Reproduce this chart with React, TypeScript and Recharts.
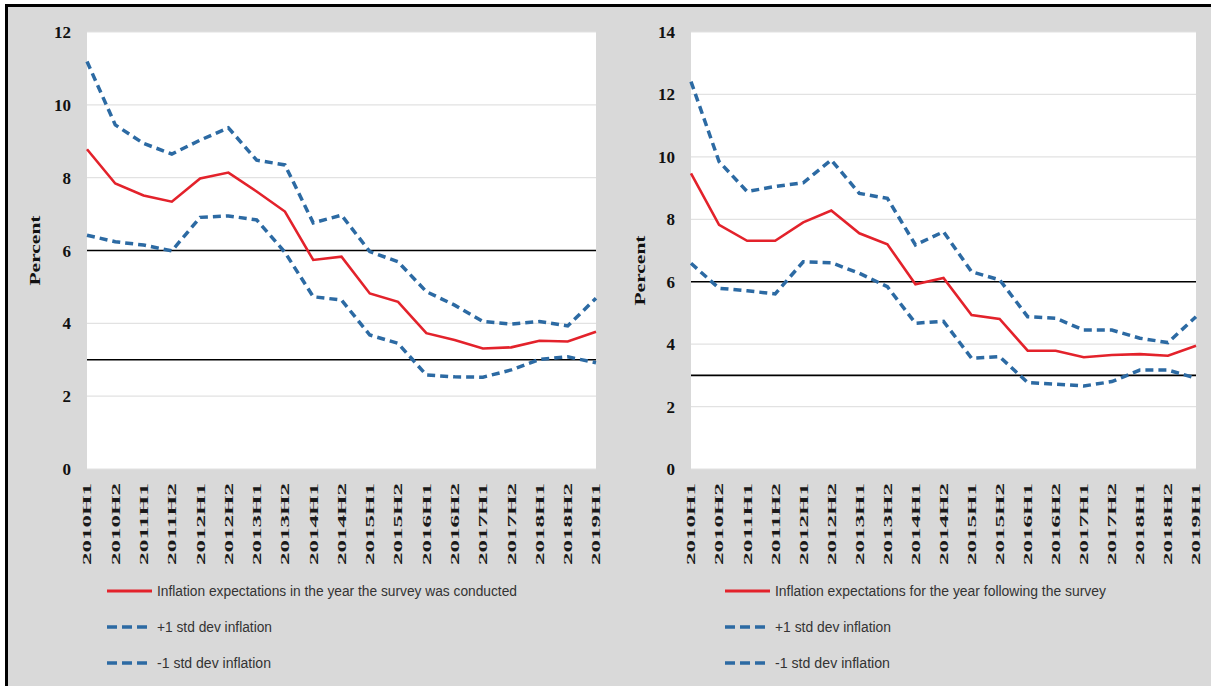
import React from 'react';
import { LineChart, Line, XAxis, YAxis, CartesianGrid, Legend, ReferenceLine } from 'recharts';

// Survey rounds, half-yearly
const periods = [
  '2010H1', '2010H2', '2011H1', '2011H2', '2012H1', '2012H2', '2013H1', '2013H2', '2014H1', '2014H2',
  '2015H1', '2015H2', '2016H1', '2016H2', '2017H1', '2017H2', '2018H1', '2018H2', '2019H1',
];

// Expectations for the year the survey was conducted
const currentYearMean = [8.78, 7.84, 7.51, 7.34, 7.98, 8.14, 7.62, 7.07, 5.74, 5.83, 4.82, 4.59, 3.73, 3.54, 3.31, 3.34, 3.52, 3.5, 3.77];
const currentYearPlus = [11.19, 9.45, 8.94, 8.65, 9.03, 9.37, 8.48, 8.35, 6.76, 6.97, 5.97, 5.69, 4.87, 4.5, 4.05, 3.98, 4.05, 3.93, 4.69];
const currentYearMinus = [6.42, 6.24, 6.15, 5.99, 6.91, 6.95, 6.84, 5.95, 4.73, 4.64, 3.68, 3.45, 2.58, 2.53, 2.52, 2.72, 3.01, 3.08, 2.92];

// Expectations for the year following the survey
const nextYearMean = [9.47, 7.82, 7.31, 7.31, 7.9, 8.28, 7.55, 7.2, 5.92, 6.12, 4.93, 4.81, 3.79, 3.79, 3.58, 3.65, 3.68, 3.63, 3.95];
const nextYearPlus = [12.41, 9.85, 8.89, 9.05, 9.17, 9.9, 8.83, 8.67, 7.18, 7.6, 6.32, 6.06, 4.88, 4.83, 4.45, 4.45, 4.19, 4.05, 4.88];
const nextYearMinus = [6.59, 5.79, 5.71, 5.61, 6.64, 6.61, 6.27, 5.84, 4.67, 4.73, 3.55, 3.6, 2.77, 2.72, 2.66, 2.8, 3.17, 3.17, 2.91];

// Target band edges
const targetBand = [6, 3];

const leftTicks = [0, 2, 4, 6, 8, 10, 12];
const rightTicks = [0, 2, 4, 6, 8, 10, 12, 14];

const RED = '#E3222B';
const BLUE = '#2C6AA3';
const BG = '#d9d9d9';
const SERIF = "'Liberation Serif', 'Times New Roman', serif";
const NARROW = "'Liberation Sans Narrow', 'Arial Narrow', 'Liberation Sans', sans-serif";
const DASH = '8 5';
const LEGEND_ORDER = ['mean', 'plus', 'minus'];

const PeriodTick = (props: any) => {
  const { x, y, payload } = props;
  return (
    <text
      transform={`translate(${x},${y}) rotate(-90)`}
      x={-82}
      y={0}
      dy="0.34em"
      textAnchor="start"
      fontFamily={SERIF}
      fontWeight="bold"
      fontSize={13}
      fill="#1a1a1a"
      textLength={82}
      lengthAdjust="spacingAndGlyphs"
    >
      {payload.value}
    </text>
  );
};

const PercentLabel = (props: any) => {
  const { viewBox, shift = 0 } = props;
  const cx = (viewBox?.x ?? 0) + 35;
  const cy = (viewBox?.y ?? 32) + (viewBox?.height ?? 437) / 2 + shift;
  return (
    <text
      transform={`translate(${cx},${cy}) rotate(-90)`}
      x={-35}
      y={0}
      dy="0.35em"
      textAnchor="start"
      fontFamily={SERIF}
      fontWeight="bold"
      fontSize={15}
      fill="#111"
      textLength={70}
      lengthAdjust="spacingAndGlyphs"
    >
      Percent
    </text>
  );
};

const makeLegend = (x0: number, widths: number[], svgWidth: number) => (props: any) => {
  const items = (props.payload || [])
    .filter((p: any) => p.type !== 'none')
    .sort((a: any, b: any) => LEGEND_ORDER.indexOf(a.dataKey) - LEGEND_ORDER.indexOf(b.dataKey));
  return (
    <svg width={svgWidth} height={106} style={{ display: 'block' }}>
      {items.map((item: any, i: number) => {
        const cy = 16 + i * 36;
        const dashed = item.payload?.strokeDasharray;
        return (
          <g key={item.value}>
            <line
              x1={x0}
              x2={x0 + 45}
              y1={cy}
              y2={cy}
              stroke={item.color}
              strokeWidth={dashed ? 3.5 : 3}
              strokeDasharray={dashed ? '10 5' : undefined}
            />
            <text
              x={x0 + 50}
              y={cy}
              dy="0.35em"
              fontFamily={NARROW}
              fontSize={14}
              fill="#333"
              textLength={widths[i]}
              lengthAdjust="spacingAndGlyphs"
            >
              {item.value}
            </text>
          </g>
        );
      })}
    </svg>
  );
};

interface PanelProps {
  left: number;
  width: number;
  marginRight: number;
  axisWidth: number;
  mainName: string;
  mean: number[];
  plus: number[];
  minus: number[];
  yMax: number;
  ticks: number[];
  legendX: number;
  legendWidths: number[];
  percentShift: number;
}

const Panel: React.FC<PanelProps> = ({
  left, width, marginRight, axisWidth, mainName, mean, plus, minus, yMax, ticks, legendX, legendWidths, percentShift,
}) => {
  const rows = periods.map((period, i) => ({ period, mean: mean[i], plus: plus[i], minus: minus[i] }));
  return (
    <div style={{ position: 'absolute', left, top: 0 }}>
      <LineChart width={width} height={686} data={rows} margin={{ top: 32, right: marginRight, left: 0, bottom: 5 }}>
        <CartesianGrid vertical={false} stroke="#e2e2e2" strokeWidth={1.2} fill="#ffffff" fillOpacity={1} />
        <XAxis
          dataKey="period"
          interval={0}
          tickLine={false}
          axisLine={false}
          tickSize={0}
          tickMargin={14}
          height={106}
          tick={<PeriodTick />}
        />
        <YAxis
          width={axisWidth}
          domain={[0, yMax]}
          ticks={ticks}
          interval={0}
          tickLine={false}
          axisLine={false}
          tickSize={8}
          tickMargin={8}
          tick={{ fontFamily: SERIF, fontWeight: 'bold', fontSize: 17, fill: '#111' }}
          label={<PercentLabel shift={percentShift} />}
        />
        {targetBand.map((level) => (
          <ReferenceLine
            key={level}
            segment={[{ x: periods[0], y: level }, { x: periods[periods.length - 1], y: level }]}
            stroke="#000"
            strokeWidth={1.6}
          />
        ))}
        <Line
          dataKey="mean"
          name={mainName}
          stroke={RED}
          strokeWidth={2.6}
          dot={false}
          type="linear"
          isAnimationActive={false}
        />
        <Line
          dataKey="plus"
          name="+1 std dev inflation"
          stroke={BLUE}
          strokeWidth={3.5}
          strokeDasharray={DASH}
          dot={false}
          type="linear"
          isAnimationActive={false}
        />
        <Line
          dataKey="minus"
          name="-1 std dev inflation"
          stroke={BLUE}
          strokeWidth={3.5}
          strokeDasharray={DASH}
          dot={false}
          type="linear"
          isAnimationActive={false}
        />
        <Legend
          verticalAlign="bottom"
          align="left"
          layout="horizontal"
          content={makeLegend(legendX, legendWidths, width)}
        />
      </LineChart>
    </div>
  );
};

export default function App() {
  return (
    <div style={{ position: 'absolute', left: 0, top: 0, width: 1211, height: 686, background: '#fff', overflow: 'hidden' }}>
      <div
        style={{
          position: 'absolute',
          left: 5,
          top: 4,
          right: 0,
          bottom: 0,
          background: BG,
          borderTop: '3px solid #000',
          borderLeft: '3px solid #000',
        }}
      />
      <Panel
        left={0}
        width={605}
        marginRight={9}
        axisWidth={87}
        mainName="Inflation expectations in the year the survey was conducted"
        mean={currentYearMean}
        plus={currentYearPlus}
        minus={currentYearMinus}
        yMax={12}
        ticks={leftTicks}
        legendX={107}
        legendWidths={[360, 115, 114]}
        percentShift={0}
      />
      <Panel
        left={605}
        width={606}
        marginRight={15}
        axisWidth={86}
        mainName="Inflation expectations for the year following the survey"
        mean={nextYearMean}
        plus={nextYearPlus}
        minus={nextYearMinus}
        yMax={14}
        ticks={rightTicks}
        legendX={120}
        legendWidths={[331, 116, 115]}
        percentShift={20}
      />
    </div>
  );
}
